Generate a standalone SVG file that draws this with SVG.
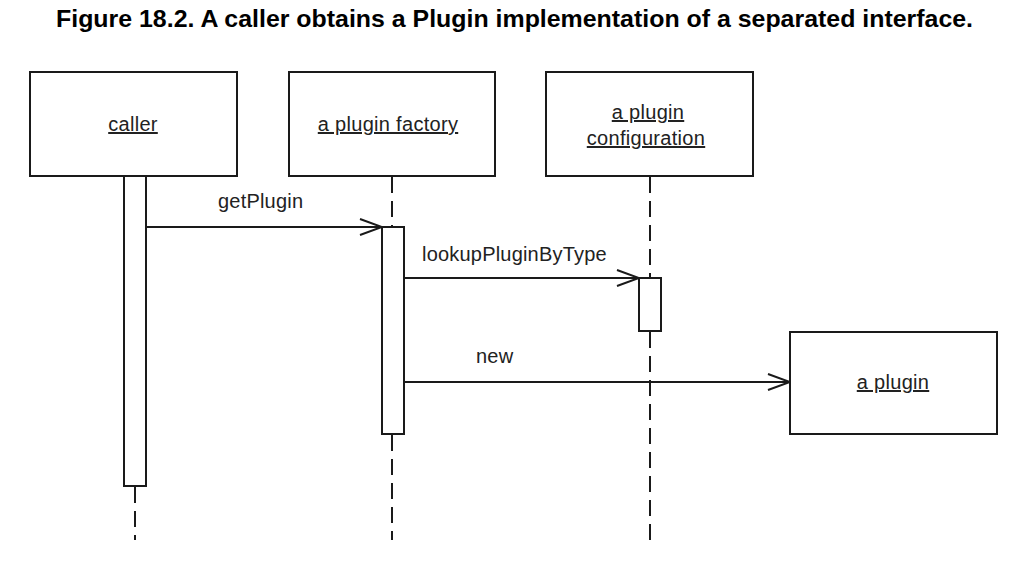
<svg xmlns="http://www.w3.org/2000/svg" width="1036" height="578" viewBox="0 0 1036 578">
  <defs>
    <style>
      .box { fill: #fff; stroke: #1a1a1a; stroke-width: 2; }
      .act { fill: #fff; stroke: #1a1a1a; stroke-width: 2; }
      .life { stroke: #1a1a1a; stroke-width: 2; stroke-dasharray: 16 8; fill: none; }
      .msg { stroke: #1a1a1a; stroke-width: 2; fill: none; }
      .lbl { font-family: "Liberation Sans", Arial, sans-serif; font-size: 20px; letter-spacing: 0.2px; fill: #222; }
      .name { font-family: "Liberation Sans", Arial, sans-serif; font-size: 20px; letter-spacing: 0.3px; fill: #222; text-anchor: middle; text-decoration: underline; }
      .title { font-family: "Liberation Sans", Arial, sans-serif; font-size: 24px; font-weight: bold; fill: #000; text-anchor: middle; }
    </style>
    <marker id="open" markerWidth="26" markerHeight="20" refX="24" refY="10" orient="auto" markerUnits="userSpaceOnUse">
      <path d="M2,2 L24,10 L2,18" fill="none" stroke="#1a1a1a" stroke-width="2"/>
    </marker>
  </defs>
  <rect width="1036" height="578" fill="#fff"/>
  <text class="title" x="514.5" y="27" textLength="917" lengthAdjust="spacingAndGlyphs">Figure 18.2. A caller obtains a Plugin implementation of a separated interface.</text>

  <g id="connectors">
    <line class="life" x1="135" y1="487" x2="135" y2="540"/>
    <line class="life" x1="392" y1="177" x2="392" y2="226"/>
    <line class="life" x1="392" y1="435" x2="392" y2="540"/>
    <line class="life" x1="650" y1="177" x2="650" y2="278"/>
    <line class="life" x1="650" y1="332" x2="650" y2="540"/>
    <line class="msg" x1="146" y1="227" x2="382" y2="227" marker-end="url(#open)"/>
    <text class="lbl" x="218" y="208">getPlugin</text>
    <line class="msg" x1="404" y1="278" x2="639" y2="278" marker-end="url(#open)"/>
    <text class="lbl" x="422" y="261">lookupPluginByType</text>
    <line class="msg" x1="404" y1="382" x2="790" y2="382" marker-end="url(#open)"/>
    <text class="lbl" x="476" y="363">new</text>
  </g>

  <g id="caller">
    <rect class="box" x="30" y="72" width="207" height="104"/>
    <text class="name" x="133" y="131">caller</text>
    <rect class="act" x="124" y="176" width="22" height="310"/>
  </g>

  <g id="factory">
    <rect class="box" x="289" y="72" width="206" height="104"/>
    <text class="name" x="388" y="131">a plugin factory</text>
    <rect class="act" x="382" y="227" width="22" height="207"/>
  </g>

  <g id="configuration">
    <rect class="box" x="546" y="72" width="207" height="104"/>
    <text class="name" x="648" y="119">a plugin</text>
    <text class="name" x="646" y="145">configuration</text>
    <rect class="act" x="639" y="278" width="22" height="53"/>
  </g>

  <g id="plugin">
    <rect class="box" x="790" y="332" width="207" height="102"/>
    <text class="name" x="893" y="389">a plugin</text>
  </g>
</svg>
